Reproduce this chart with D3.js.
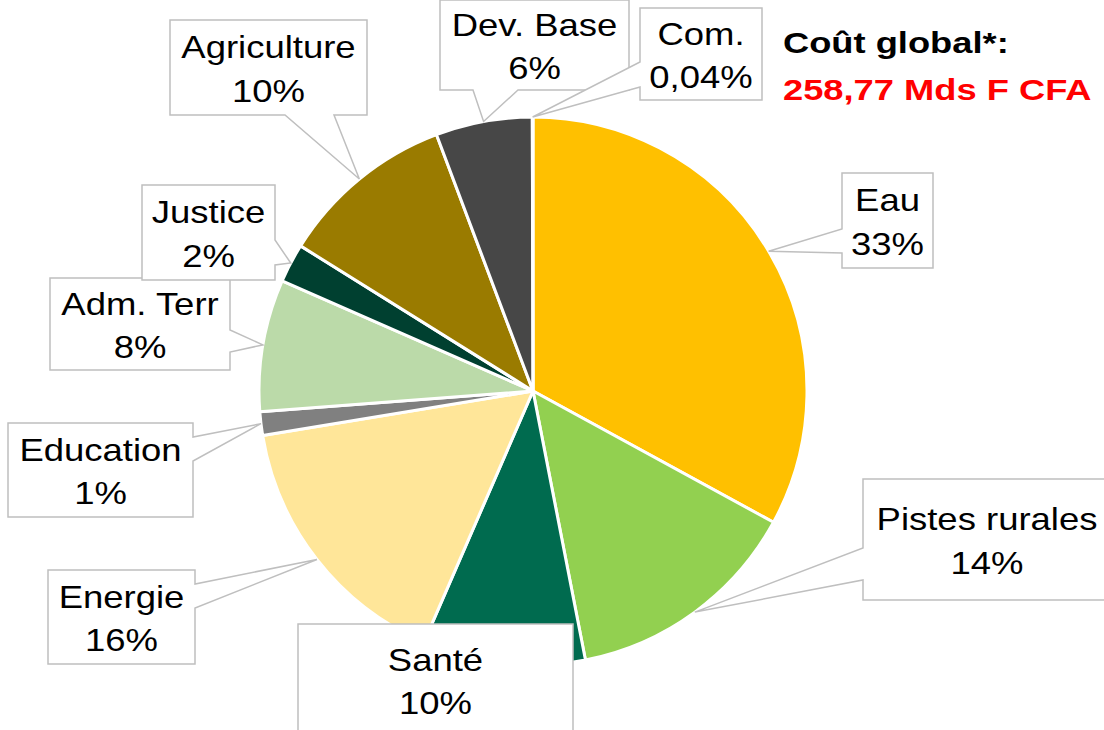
<!DOCTYPE html>
<html>
<head>
<meta charset="utf-8">
<script src="https://cdn.jsdelivr.net/npm/d3@7"></script>
<style>
  html, body { margin: 0; padding: 0; background: #fff; }
  text { font-family: "Liberation Sans", Arial, sans-serif; }
</style>
</head>
<body>
<div id="pie-chart"></div>
<script>
// Sectors, clockwise from the top
const sectors = ["Eau", "Pistes rurales", "Santé", "Energie", "Education", "Adm. Terr", "Justice", "Agriculture", "Dev. Base", "Com."];
const shares = [33.0, 14.0, 9.6, 15.9, 1.4, 7.8, 2.3, 10.4, 5.7, 0.04];
const shareLabels = ["33%", "14%", "10%", "16%", "1%", "8%", "2%", "10%", "6%", "0,04%"];
const colors = ["#FFC000", "#92D050", "#006B4F", "#FFE699", "#808080", "#BBDAA9", "#004030", "#9A7B00", "#474747", "#7F7F7F"];
const titleLines = ["Coût global*:", "258,77 Mds F CFA"];

// Callout boxes: [left, top, right, bottom], tail side and where the tail leaves the side
const callouts = [
  { box: [842, 173, 933, 268], side: "left", tail: [229, 253] },
  { box: [863, 479, 1111, 600], side: "left", tail: [548, 580] },
  { box: [298, 624, 573, 736], side: "none", tail: [] },
  { box: [48, 570, 195, 664], side: "right", tail: [584, 608] },
  { box: [8, 423, 193, 517], side: "right", tail: [437, 461] },
  { box: [50, 278, 230, 370], side: "right", tail: [330, 352] },
  { box: [142, 185, 275, 280], side: "right", tail: [240, 265] },
  { box: [170, 20, 367, 115], side: "bottom", tail: [285, 334] },
  { box: [440, 0, 629, 90], side: "bottom", tail: [473, 518] },
  { box: [640, 8, 762, 100], side: "left", tail: [62, 87] }
];

let width = 1104;
let height = 730;
let cx = 533;
let cy = 391;
let radius = 274;
let textStretch = 1.14;

let svg = d3.select("#pie-chart")
  .append("svg")
  .attr("width", width)
  .attr("height", height);

let pie = d3.pie()
  .sort(null)
  .value(d => d);

let arcs = pie(shares);

let arc = d3.arc()
  .innerRadius(0)
  .outerRadius(radius);

// zero-width ring, its centroid is the mid point of the slice's outer edge
let edgeArc = d3.arc()
  .innerRadius(radius)
  .outerRadius(radius);

let pieGroup = svg.append("g")
  .attr("transform", "translate(" + cx + "," + cy + ")");

pieGroup.selectAll("path")
  .data(arcs)
  .enter()
    .append("path")
    .attr("d", arc)
    .attr("fill", (d, i) => colors[i])
    .attr("stroke", "#fff")
    .attr("stroke-width", 3)
    .attr("stroke-linejoin", "round");

// Build a rectangle outline with a wedge tail pointing at the slice
function calloutPath(c, tip) {
  let [x0, y0, x1, y1] = c.box;
  let p = d3.path();
  p.moveTo(x0, y0);
  p.lineTo(x1, y0);
  if (c.side === "right") {
    p.lineTo(x1, c.tail[0]);
    p.lineTo(tip[0], tip[1]);
    p.lineTo(x1, c.tail[1]);
  }
  p.lineTo(x1, y1);
  if (c.side === "bottom") {
    p.lineTo(c.tail[1], y1);
    p.lineTo(tip[0], tip[1]);
    p.lineTo(c.tail[0], y1);
  }
  p.lineTo(x0, y1);
  if (c.side === "left") {
    p.lineTo(x0, c.tail[1]);
    p.lineTo(tip[0], tip[1]);
    p.lineTo(x0, c.tail[0]);
  }
  p.closePath();
  return p.toString();
}

let labels = svg.append("g")
  .selectAll("g")
  .data(arcs)
  .enter()
    .append("g")
    .attr("class", "callout");

labels.append("path")
  .attr("d", (d, i) => {
    let c = edgeArc.centroid(d);
    return calloutPath(callouts[i], [cx + c[0], cy + c[1]]);
  })
  .attr("fill", "#fff")
  .attr("stroke", "#BFBFBF")
  .attr("stroke-width", 1.5)
  .attr("stroke-linejoin", "miter");

function addLine(sel, lineText, dy) {
  sel.append("text")
    .attr("transform", (d, i) => {
      let b = callouts[i].box;
      let mx = (b[0] + b[2]) / 2;
      let my = (b[1] + b[3]) / 2;
      return "translate(" + mx + "," + (my + dy) + ") scale(" + textStretch + ",1)";
    })
    .attr("text-anchor", "middle")
    .attr("font-size", 32)
    .attr("fill", "#000")
    .text(lineText);
}
addLine(labels, (d, i) => sectors[i], -9.5);
addLine(labels, (d, i) => shareLabels[i], 34);

// Total cost note, top right
let note = svg.append("g");
note.selectAll("text")
  .data(titleLines)
  .enter()
    .append("text")
    .attr("transform", (d, i) => "translate(783," + (53 + i * 47) + ") scale(1.21,1)")
    .attr("font-size", 30)
    .attr("font-weight", "bold")
    .attr("fill", (d, i) => i === 0 ? "#000" : "#FF0000")
    .text(d => d);
</script>
</body>
</html>
